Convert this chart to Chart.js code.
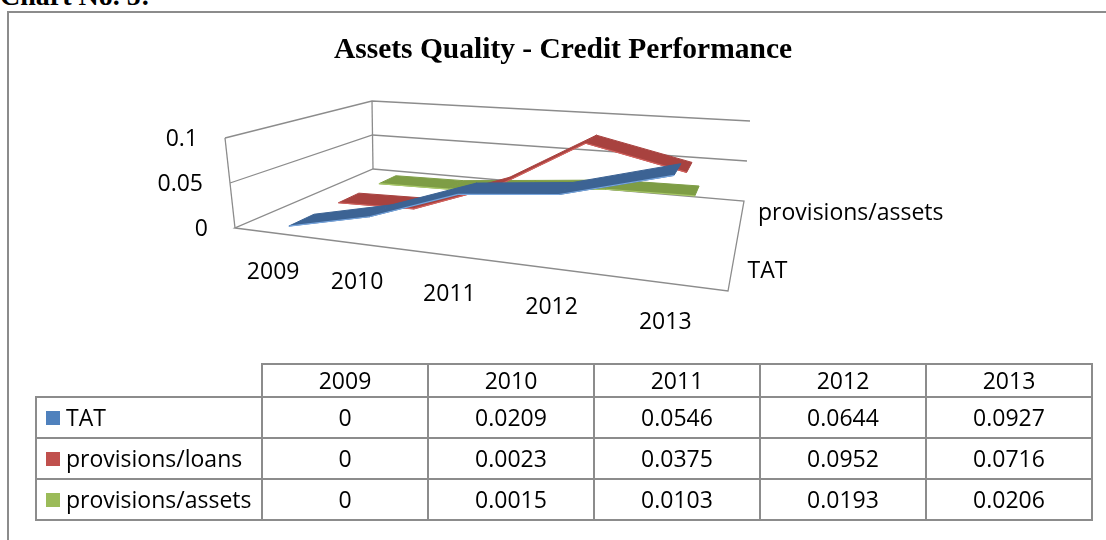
<!DOCTYPE html>
<html>
<head>
<meta charset="utf-8">
<script src="https://cdn.jsdelivr.net/npm/chart.js@4.4.1/dist/chart.umd.min.js"></script>
<style>
html,body{margin:0;padding:0;background:#fff;overflow:hidden;}
body{width:1106px;height:540px;position:relative;}
#cap{position:absolute;left:0px;top:-19px;font:bold 28px 'Liberation Serif';line-height:29px;white-space:nowrap;color:#000;}
#frame{position:absolute;left:7px;top:11px;width:1200px;height:600px;border-left:2px solid #8c8c8c;border-top:2px solid #8c8c8c;}
#wrap{position:absolute;left:0;top:0;width:1106px;height:540px;}
#tbl{position:absolute;left:35px;top:363px;border-collapse:collapse;table-layout:fixed;font-family:'Open Sans';font-size:23px;color:#000;}
#tbl td{border:2px solid #8c8c8c;padding:0;text-align:center;white-space:nowrap;}
#tbl tr.h td{height:31px;line-height:31px;}
#tbl tr.d td{height:39px;line-height:39px;}
#tbl td.lab{text-align:left;padding-left:9px;}
#tbl td.blank{border:none;}
.key{display:inline-block;width:14px;height:14px;margin-right:6px;vertical-align:middle;position:relative;top:-2px;}
</style>
</head>
<body>
<div id="cap">Chart No. 5:</div>
<div id="frame"></div>
<div id="wrap"><canvas id="c" width="1106" height="540"></canvas></div>
<table id="tbl"></table>
<script>
// ---- data ----
const years = ['2009', '2010', '2011', '2012', '2013'];
const seriesNames = ['TAT', 'provisions/loans', 'provisions/assets'];
const tat = [0, 0.0209, 0.0546, 0.0644, 0.0927];
const provisionsLoans = [0, 0.0023, 0.0375, 0.0952, 0.0716];
const provisionsAssets = [0, 0.0015, 0.0103, 0.0193, 0.0206];
const valueTicks = [0, 0.05, 0.1];
const valueTickLabels = ['0', '0.05', '0.1'];
const depthTickLabels = ['TAT', 'provisions/assets'];
const chartTitle = 'Assets Quality - Credit Performance';

// ---- styles ----
const keyColors = ['#4F81BD', '#C0504D', '#9BBB59'];
const faceColors = ['#3C6394', '#A8423F', '#7E9D45'];
const edgeColors = ['#78A6DE', '#D2625E', '#A9C86A'];
const gridColor = '#8c8c8c';
const tickFont = "23px 'Open Sans'";

// 3D frame corners (screen px): unit square (x: categories, z: depth) for floor and top wall level
const floorQuad = [[235, 228], [728, 291], [744, 201], [373, 169]];
const topQuad = [[225, 138], [736, 180], [750, 121], [372, 101]];

function squareToQuad(q) {
  const [x0, y0] = q[0], [x1, y1] = q[1], [x2, y2] = q[2], [x3, y3] = q[3];
  const dx1 = x1 - x2, dx2 = x3 - x2, dy1 = y1 - y2, dy2 = y3 - y2;
  const sx = x0 - x1 + x2 - x3, sy = y0 - y1 + y2 - y3;
  const den = dx1 * dy2 - dx2 * dy1;
  const g = (sx * dy2 - dx2 * sy) / den, h = (dx1 * sy - sx * dy1) / den;
  const a = x1 - x0 + g * x1, b = x3 - x0 + h * x3, c = x0;
  const d = y1 - y0 + g * y1, e = y3 - y0 + h * y3, f = y0;
  return (u, v) => { const w = g * u + h * v + 1; return [(a * u + b * v + c) / w, (d * u + e * v + f) / w]; };
}
const Hf = squareToQuad(floorQuad), Ht = squareToQuad(topQuad);
function P(x, z, t) {
  const p = Hf(x, z), q = Ht(x, z);
  return [p[0] + (q[0] - p[0]) * t, p[1] + (q[1] - p[1]) * t];
}

const seriesValues = [tat, provisionsLoans, provisionsAssets];
const datasets = seriesNames.map((n, i) => ({
  label: n, data: seriesValues[i], borderColor: keyColors[i], backgroundColor: keyColors[i],
  pointRadius: 0, borderWidth: 0
}));

const plot3d = {
  id: 'plot3d',
  beforeDatasetsDraw(chart) {
    const ctx = chart.ctx;
    const xs = chart.scales.x, ys = chart.scales.y, zs = chart.scales.depth;
    const xn = i => (xs.getPixelForValue(i) - xs.left) / xs.width;
    const zn = j => (zs.getPixelForValue(j) - zs.left) / zs.width;
    const tn = v => (ys.bottom - ys.getPixelForValue(v)) / (ys.bottom - ys.top);
    const line = (a, b) => { ctx.beginPath(); ctx.moveTo(a[0], a[1]); ctx.lineTo(b[0], b[1]); ctx.stroke(); };
    ctx.save();
    ctx.strokeStyle = gridColor; ctx.lineWidth = 1.3;
    // floor outline
    ctx.beginPath();
    [[0, 0], [1, 0], [1, 1], [0, 1]].forEach((c, k) => { const p = P(c[0], c[1], 0); k ? ctx.lineTo(p[0], p[1]) : ctx.moveTo(p[0], p[1]); });
    ctx.closePath(); ctx.stroke();
    // wall verticals
    line(P(0, 0, 0), P(0, 0, 1));
    line(P(0, 1, 0), P(0, 1, 1));
    // gridlines on side + back walls
    valueTicks.forEach(v => {
      const t = tn(v);
      if (t <= 0) return;
      ctx.beginPath();
      const a = P(0, 0, t), b = P(0, 1, t), c = P(1, 1, t);
      ctx.moveTo(a[0], a[1]); ctx.lineTo(b[0], b[1]); ctx.lineTo(c[0], c[1]); ctx.stroke();
    });
    // ribbons back to front
    const hw = 0.08;
    for (let j = datasets.length - 1; j >= 0; j--) {
      const data = chart.data.datasets[j].data;
      const z = zn(j);
      for (let i = 0; i < data.length - 1; i++) {
        const x0 = xn(i), x1 = xn(i + 1), t0 = tn(data[i]), t1 = tn(data[i + 1]);
        const a = P(x0, z - hw, t0), b = P(x1, z - hw, t1), c = P(x1, z + hw, t1), d = P(x0, z + hw, t0);
        ctx.beginPath();
        ctx.moveTo(a[0], a[1]); ctx.lineTo(b[0], b[1]); ctx.lineTo(c[0], c[1]); ctx.lineTo(d[0], d[1]);
        ctx.closePath();
        ctx.fillStyle = faceColors[j]; ctx.fill();
        ctx.strokeStyle = faceColors[j]; ctx.lineWidth = 1; ctx.stroke();
        ctx.strokeStyle = edgeColors[j]; ctx.lineWidth = 1.2; line(a, b);
      }
    }
    // tick labels
    ctx.fillStyle = '#000'; ctx.font = tickFont;
    ctx.textAlign = 'right'; ctx.textBaseline = 'middle';
    valueTicks.forEach((v, k) => { const p = P(0, 0, tn(v)); ctx.fillText(valueTickLabels[k], p[0] - 27, p[1] + 1); });
    ctx.textAlign = 'center';
    years.forEach((y, i) => { const p = P(xn(i), 0, 0); ctx.fillText(y, p[0] - 1, p[1] + 39); });
    ctx.textAlign = 'left';
    depthTickLabels.forEach(name => { const j = seriesNames.indexOf(name); const p = P(1, zn(j), 0); ctx.fillText(name, p[0] + 16, p[1] + 1); });
    ctx.restore();
    return false;
  }
};

new Chart(document.getElementById('c'), {
  type: 'line',
  data: { labels: years, datasets },
  options: {
    responsive: false, animation: false, events: [],
    layout: { padding: { left: 20 } },
    plugins: {
      legend: { display: false }, tooltip: { enabled: false },
      title: { display: true, text: chartTitle, color: '#000',
        font: { family: "'Liberation Serif'", size: 29.5, weight: 'bold', lineHeight: 1.2 },
        padding: { top: 33, bottom: 10 } }
    },
    scales: {
      x: { type: 'category', display: false, offset: true },
      y: { type: 'linear', display: false, min: 0, max: 0.1 },
      depth: { type: 'category', axis: 'x', labels: seriesNames, display: false, offset: true }
    }
  },
  plugins: [plot3d]
});

// ---- data table ----
const tbl = document.getElementById('tbl');
const colW = [226, 166, 166, 166, 166, 166];
const cg = document.createElement('colgroup');
colW.forEach(w => { const c = document.createElement('col'); c.style.width = w + 'px'; cg.appendChild(c); });
tbl.appendChild(cg);
const hr = document.createElement('tr'); hr.className = 'h';
const blank = document.createElement('td'); blank.className = 'blank'; hr.appendChild(blank);
years.forEach(y => { const td = document.createElement('td'); td.textContent = y; hr.appendChild(td); });
tbl.appendChild(hr);
seriesNames.forEach((n, j) => {
  const tr = document.createElement('tr'); tr.className = 'd';
  const lab = document.createElement('td'); lab.className = 'lab';
  const k = document.createElement('span'); k.className = 'key'; k.style.background = keyColors[j];
  lab.appendChild(k); lab.appendChild(document.createTextNode(n)); tr.appendChild(lab);
  seriesValues[j].forEach(v => { const td = document.createElement('td'); td.textContent = String(v); tr.appendChild(td); });
  tbl.appendChild(tr);
});
</script>
</body>
</html>
